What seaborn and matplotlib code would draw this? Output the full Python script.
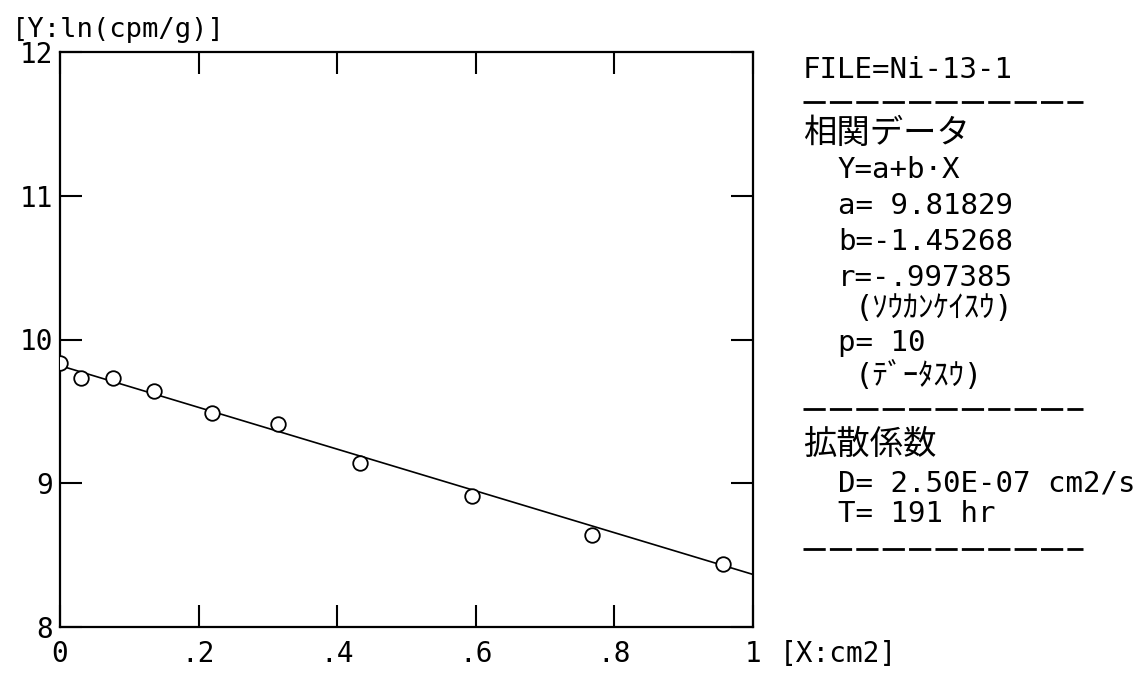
import matplotlib
matplotlib.use("Agg")
import matplotlib.pyplot as plt
from matplotlib.lines import Line2D
import numpy as np
import pandas as pd
import seaborn as sns

# Measured depth profile: squared penetration depth vs. log activity
depth_sq = [0.0, 0.030, 0.076, 0.136, 0.219, 0.314, 0.433, 0.594, 0.768, 0.957]
ln_activity = [9.84, 9.73, 9.73, 9.64, 9.49, 9.41, 9.14, 8.91, 8.64, 8.44]

# Least-squares fit parameters
fit_a = 9.81829
fit_b = -1.45268
fit_r = -0.997385
n_points = 10
diff_coef = "2.50E-07"
anneal_hours = 191
file_name = "Ni-13-1"

x_ticks = [0, 0.2, 0.4, 0.6, 0.8, 1]
x_tick_labels = ["0", ".2", ".4", ".6", ".8", "1"]
y_ticks = [8, 9, 10, 11, 12]
y_tick_labels = ["8", "9", "10", "11", "12"]

sns.set_theme(style="white")
plt.rcParams["font.family"] = ["DejaVu Sans Mono", "Noto Sans CJK JP"]

W, H = 1142, 673
fig = plt.figure(figsize=(W / 100, H / 100), dpi=100)
fig.patch.set_facecolor("white")

# plot frame in pixel coordinates
L, R, T, B = 60, 753, 52, 627
ax = fig.add_axes([L / W, 1 - B / H, (R - L) / W, (B - T) / H])
ax.set_facecolor("white")

fit_x = np.array([0.0, 1.0])
fit_df = pd.DataFrame({"x": fit_x, "y": fit_a + fit_b * fit_x})
pts_df = pd.DataFrame({"x": depth_sq, "y": ln_activity})

sns.lineplot(data=fit_df, x="x", y="y", ax=ax, color="black", linewidth=1.2, zorder=2)
sns.scatterplot(data=pts_df, x="x", y="y", ax=ax, s=110, marker="o",
                facecolor="white", edgecolor="black", linewidth=1.3, zorder=3)

ax.set_xlim(0, 1)
ax.set_ylim(8, 12)
ax.set_xticks(x_ticks)
ax.set_xticklabels(x_tick_labels)
ax.set_yticks(y_ticks)
ax.set_yticklabels(y_tick_labels)
ax.set_xlabel("")
ax.set_ylabel("")
for sp in ax.spines.values():
    sp.set_visible(True)
    sp.set_color("black")
    sp.set_linewidth(1.6)
ax.tick_params(axis="both", direction="in", length=16, width=1.5, color="black",
               bottom=True, left=True, top=True, right=True,
               labelbottom=True, labelleft=True, labeltop=False, labelright=False)
ax.tick_params(axis="x", pad=9, labelsize=20, labelcolor="black")
ax.tick_params(axis="y", pad=5, labelsize=20, labelcolor="black")
ax.grid(False)


def ftext(px, py, s, size=21, **kw):
    fig.text(px / W, 1 - py / H, s, fontsize=size, color="black",
             va="center", ha="left", **kw)


# axis captions
ftext(12, 30, "[Y:ln(cpm/g)]", size=19.5)
ftext(780, 654, "[X:cm2]", size=20)

# summary panel
col0, col2, col3 = 803, 838, 855
ftext(col0, 70, f"FILE={file_name}")
ftext(col0, 133, "相関データ", size=24)
ftext(col2, 170, "Y=a+b·X")
ftext(col2, 206, f"a= {fit_a:.5f}")
ftext(col2, 242, f"b={fit_b:.5f}")
ftext(col2, 278, "r=" + f"{fit_r:.6f}".replace("-0.", "-."))
ftext(col3, 309, "(ｿｳｶﾝｹｲｽｳ)", size=22)
ftext(col2, 343, f"p= {n_points}")
ftext(col3, 376, "(ﾃﾞｰﾀｽｳ)", size=22)
ftext(col0, 444, "拡散係数", size=24)
ftext(col2, 483, f"D= {diff_coef} cm2/s")
ftext(col2, 514, f"T= {anneal_hours} hr")

for ly in (102, 409, 549):
    fig.add_artist(Line2D([803 / W, 1083 / W], [1 - ly / H, 1 - ly / H],
                          color="black", linewidth=2.0, linestyle=(0, (8, 1.5))))

fig.savefig("out.png", dpi=100, facecolor="white")
